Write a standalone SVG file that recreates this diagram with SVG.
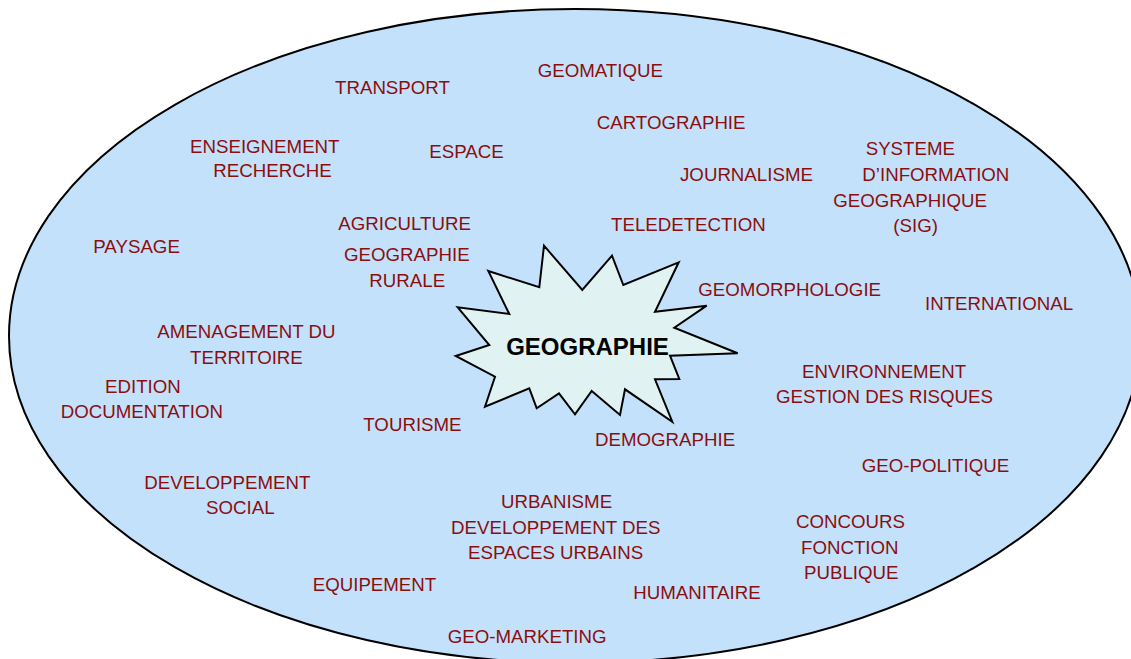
<svg xmlns="http://www.w3.org/2000/svg" width="1131" height="659" viewBox="0 0 1131 659">
<style>
.t{font-family:"Liberation Sans",Arial,sans-serif;font-size:18.7px;fill:#8A0E0E}
.c{font-family:"Liberation Sans",Arial,sans-serif;font-size:24px;font-weight:bold;fill:#000;text-anchor:middle}
</style>
<rect width="1131" height="659" fill="#fff"/>
<g id="field">
<ellipse cx="575" cy="336" rx="566" ry="327" fill="#C4E1FC" stroke="#000" stroke-width="2"/>
</g>
<g id="connectors"></g>
<g id="center">
<polygon points="544,245.7 582.3,290 612,255.7 623.3,285 678.7,262.3 655,311.7 706.7,305.7 674.3,327.7 737.7,353.3 670,355.7 679.3,379 655,379.3 672.3,421.7 625,389.3 620,415 591.7,391 575,414.3 559,393.3 536.7,408.3 529.3,388.3 485,406.7 495,376.7 455.7,356 489.3,345 457.7,307.3 509.3,314 488.3,271 539.3,287.3" fill="#E0F2F2" stroke="#000" stroke-width="2" stroke-linejoin="miter"/>
<text class="c" x="587.5" y="355">GEOGRAPHIE</text>
</g>
<g id="n-transport"><text class="t" x="335" y="94">TRANSPORT</text></g>
<g id="n-geomatique"><text class="t" x="537.7" y="77">GEOMATIQUE</text></g>
<g id="n-cartographie"><text class="t" x="596.7" y="129">CARTOGRAPHIE</text></g>
<g id="n-enseignement"><text class="t" x="190" y="153.3">ENSEIGNEMENT</text><text class="t" x="213.3" y="177">RECHERCHE</text></g>
<g id="n-espace"><text class="t" x="429.3" y="158">ESPACE</text></g>
<g id="n-journalisme"><text class="t" x="680" y="180.5">JOURNALISME</text></g>
<g id="n-sig"><text class="t" x="865.7" y="155">SYSTEME</text><text class="t" x="862.3" y="180.5">D’INFORMATION</text><text class="t" x="833.3" y="206.5">GEOGRAPHIQUE</text><text class="t" x="893.3" y="232">(SIG)</text></g>
<g id="n-teledetection"><text class="t" x="611" y="231">TELEDETECTION</text></g>
<g id="n-geomorphologie"><text class="t" x="698.3" y="296">GEOMORPHOLOGIE</text></g>
<g id="n-international"><text class="t" x="925" y="310">INTERNATIONAL</text></g>
<g id="n-paysage"><text class="t" x="93.3" y="253.3">PAYSAGE</text></g>
<g id="n-agriculture"><text class="t" x="338.3" y="230">AGRICULTURE</text></g>
<g id="n-georurale"><text class="t" x="344" y="261">GEOGRAPHIE</text><text class="t" x="369.3" y="286.7">RURALE</text></g>
<g id="n-amenagement"><text class="t" x="157.3" y="338.3">AMENAGEMENT DU</text><text class="t" x="190" y="364.3">TERRITOIRE</text></g>
<g id="n-edition"><text class="t" x="105" y="392.7">EDITION</text><text class="t" x="60.7" y="418.3">DOCUMENTATION</text></g>
<g id="n-tourisme"><text class="t" x="363.3" y="431">TOURISME</text></g>
<g id="n-demographie"><text class="t" x="595" y="446">DEMOGRAPHIE</text></g>
<g id="n-environnement"><text class="t" x="802" y="378">ENVIRONNEMENT</text><text class="t" x="776" y="403">GESTION DES RISQUES</text></g>
<g id="n-geopolitique"><text class="t" x="861.7" y="471.7">GEO-POLITIQUE</text></g>
<g id="n-developpement"><text class="t" x="144.3" y="489.3">DEVELOPPEMENT</text><text class="t" x="206" y="514.3">SOCIAL</text></g>
<g id="n-urbanisme"><text class="t" x="501" y="508">URBANISME</text><text class="t" x="451" y="534">DEVELOPPEMENT DES</text><text class="t" x="468" y="559">ESPACES URBAINS</text></g>
<g id="n-concours"><text class="t" x="796" y="528.3">CONCOURS</text><text class="t" x="801" y="554">FONCTION</text><text class="t" x="804" y="579.3">PUBLIQUE</text></g>
<g id="n-equipement"><text class="t" x="312.7" y="590.7">EQUIPEMENT</text></g>
<g id="n-humanitaire"><text class="t" x="633.3" y="599.3">HUMANITAIRE</text></g>
<g id="n-geomarketing"><text class="t" x="447.7" y="643.3">GEO-MARKETING</text></g>
</svg>
